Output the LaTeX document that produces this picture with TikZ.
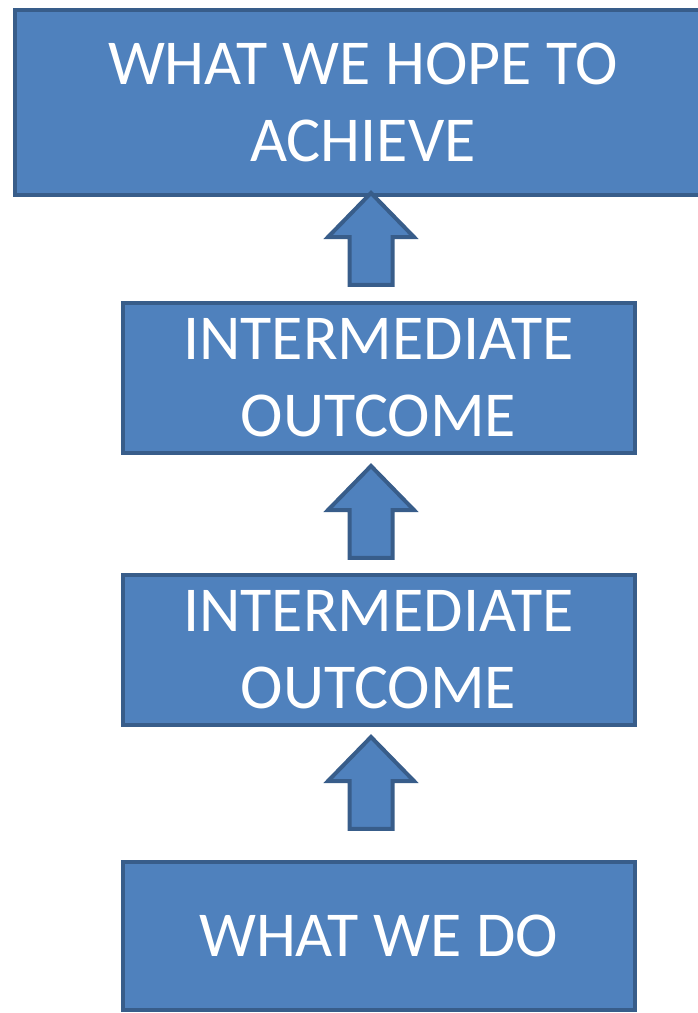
\documentclass[tikz,border=0pt]{standalone}
\usepackage{fontspec}
\setmainfont{Carlito}
\usepackage{tikz}
\usetikzlibrary{shapes.arrows}
\definecolor{boxfill}{HTML}{4F81BD}
\definecolor{boxline}{HTML}{385D8A}

\begin{document}
\begin{tikzpicture}[x=1pt,y=1pt,
	box/.style={draw=boxline,fill=boxfill,line width=4pt,outer sep=0pt,text=white,align=center,
		font=\fontsize{64}{77}\selectfont},
	uparrow/.style={single arrow,draw=boxline,fill=boxfill,line width=4pt,rotate=90,
		minimum height=92pt,inner xsep=0pt,inner ysep=19.5pt,
		single arrow head extend=21.5pt,single arrow tip angle=88.6}]
			\useasboundingbox (0,0) rectangle (698,1013);
			\node [box,minimum width=696pt,minimum height=185pt] (goal) at (363,910.5) {WHAT WE HOPE TO\\ACHIEVE};
			\node [box,minimum width=512pt,minimum height=150pt] (im2) at (378.5,635) {INTERMEDIATE\\OUTCOME};
			\node [box,minimum width=512pt,minimum height=150pt] (im1) at (378.5,363) {INTERMEDIATE\\OUTCOME};
			\node [box,minimum width=512pt,minimum height=148pt] (do) at (378.5,77) {WHAT WE DO};
			\node [uparrow,anchor=tail] (up1) at ([shift={(-7.5pt,16pt)}]im2.north) {};
			\node [uparrow,anchor=tail] (up2) at ([shift={(-7.5pt,15pt)}]im1.north) {};
			\node [uparrow,anchor=tail] (up3) at ([shift={(-7.5pt,31pt)}]do.north) {};
			\end{tikzpicture}
\end{document}
